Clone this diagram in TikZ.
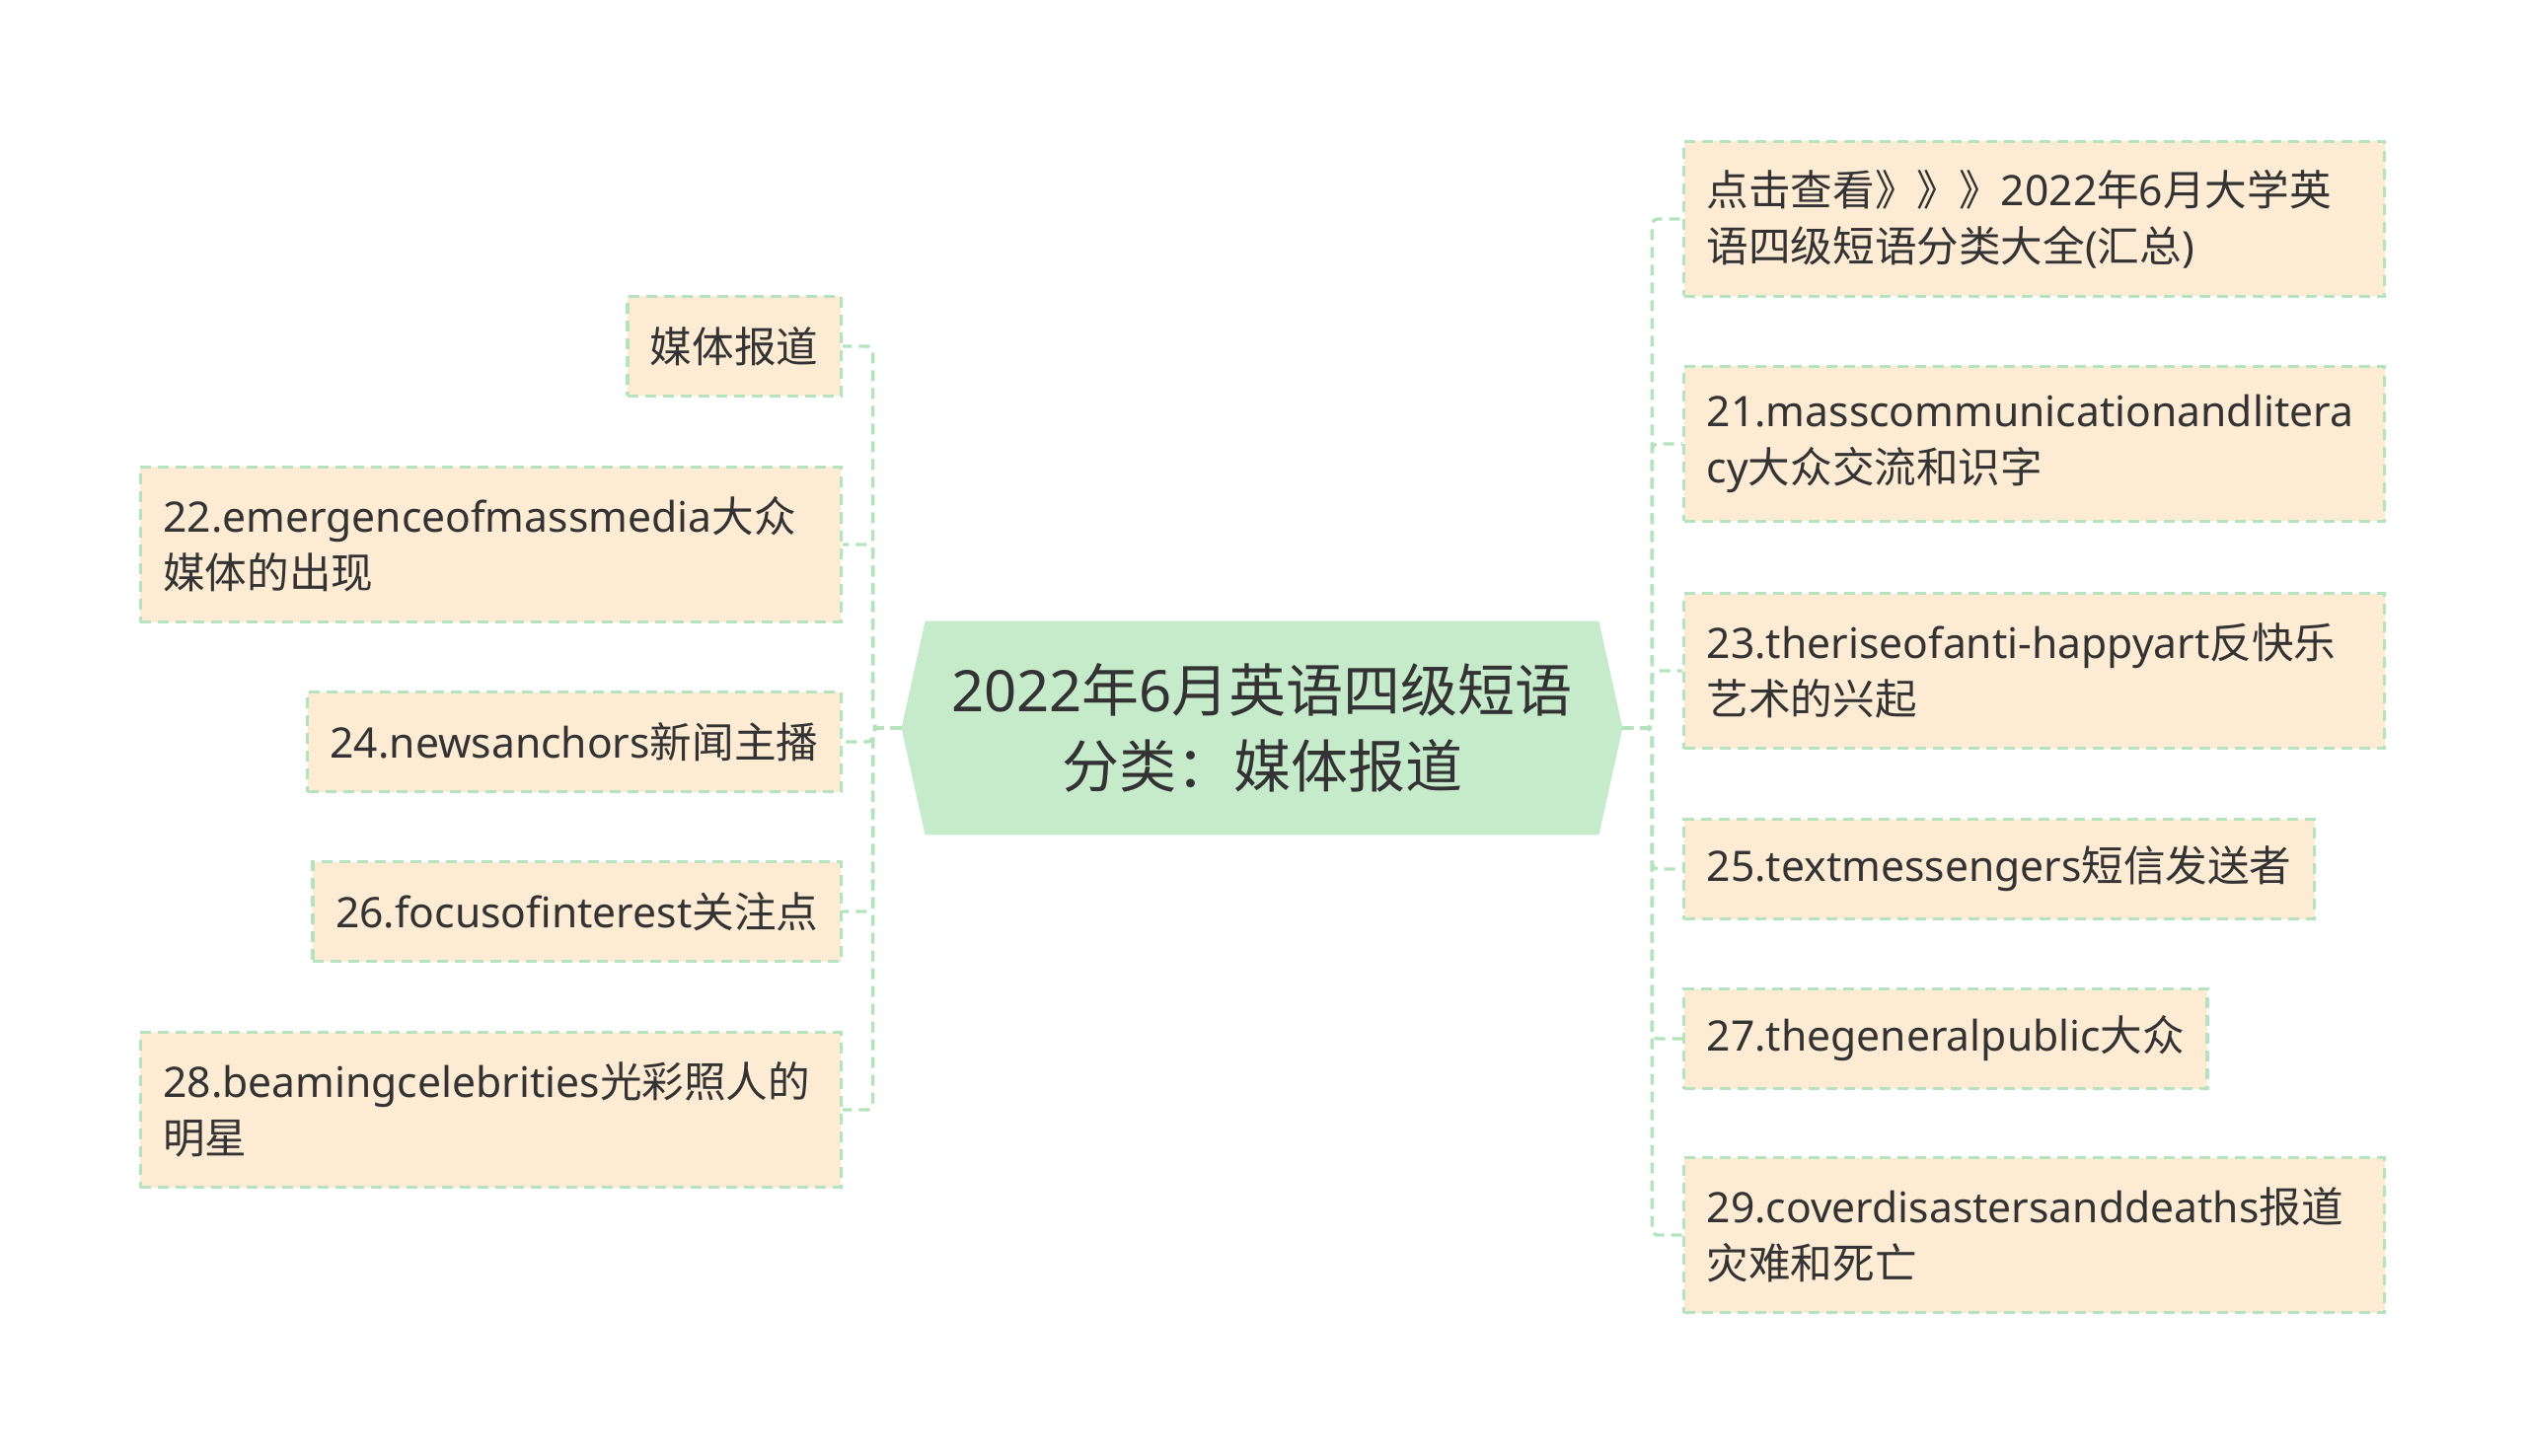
\documentclass[tikz,border=0pt]{standalone}
\usepackage{fontspec}
\setmainfont{Noto Sans}
\newfontfamily\zhfont{Noto Sans CJK SC}
\newcommand{\zh}[1]{{\zhfont #1}}
\usetikzlibrary{backgrounds}
\definecolor{leaffill}{RGB}{253,235,211}
\definecolor{linegreen}{RGB}{180,227,190}
\definecolor{rootfill}{RGB}{197,235,203}
\definecolor{textgray}{RGB}{51,51,51}
\tikzset{
	leaf/.style={draw=linegreen, line width=1.7pt, dash pattern=on 5.5pt off 3.5pt, fill=leaffill,
		inner xsep=11.5pt, inner ysep=0pt, minimum height=50.5pt, align=left, text=textgray,
		font=\fontsize{21.3}{28.5}\selectfont},
	leaftwo/.style={leaf, minimum height=78.5pt, text width=332pt},
	link/.style={draw=linegreen, line width=1.7pt, dash pattern=on 5.5pt off 3.5pt, rounded corners=3pt},
}
\begin{document}
\begin{tikzpicture}[x=0.5pt, y=-0.5pt]
					% canvas setup
					
					\def\xmax{2560}
					\def\ymax{1476}
					\def\xleft{854}
					\def\xright{1705}
					
					\useasboundingbox (0,0) rectangle (\xmax,\ymax);
					
					% root
					\node[minimum width=365pt, minimum height=108pt, align=center, text=textgray,
						font=\fontsize{29}{38.5}\selectfont] (root) at (1279,738)
						{2022\zh{年}6\zh{月英语四级短语}\\\zh{分类：媒体报道}};
					\begin{pgfonlayer}{background}
					\fill[rootfill] (root.west) -- ([xshift=12pt]root.north west) -- ([xshift=-12pt]root.north east)
						-- (root.east) -- ([xshift=-12pt]root.south east) -- ([xshift=12pt]root.south west) -- cycle;
					\end{pgfonlayer}
					
					% left side
					\node[leaf, anchor=east] (media) at (\xleft,351) {\zh{媒体报道}};
					\node[leaftwo, anchor=east] (emerge) at (\xleft,552) {22.emergenceofmassmedia\zh{大众}\\\zh{媒体的出现}};
					\node[leaf, anchor=east] (anchors) at (\xleft,752) {24.newsanchors\zh{新闻主播}};
					\node[leaf, anchor=east] (focus) at (\xleft,924) {26.focusofinterest\zh{关注点}};
					\node[leaftwo, anchor=east] (celeb) at (\xleft,1125) {28.beamingcelebrities\zh{光彩照人的}\\\zh{明星}};
					
					% right side
					\node[leaftwo, anchor=west] (click) at (\xright,222) {\zh{点击查看》》》}2022\zh{年}6\zh{月大学英}\\\zh{语四级短语分类大全}(\zh{汇总})};
					\node[leaftwo, anchor=west] (masscom) at (\xright,450) {21.masscommunicationandlitera\\cy\zh{大众交流和识字}};
					\node[leaftwo, anchor=west] (antihappy) at (\xright,680) {23.theriseofanti-happyart\zh{反快乐}\\\zh{艺术的兴起}};
					\node[leaf, anchor=west] (texting) at (\xright,881) {25.textmessengers\zh{短信发送者}};
					\node[leaf, anchor=west] (public) at (\xright,1053) {27.thegeneralpublic\zh{大众}};
					\node[leaftwo, anchor=west] (disaster) at (\xright,1252) {29.coverdisastersanddeaths\zh{报道}\\\zh{灾难和死亡}};
					
					% links
					\foreach \n in {media, emerge, anchors, focus, celeb}
						\draw[link] (root.west) -- ++(-29,0) |- (\n.east);
					\foreach \n in {click, masscom, antihappy, texting, public, disaster}
						\draw[link] (root.east) -- ++(30,0) |- (\n.west);
					\end{tikzpicture}
\end{document}
